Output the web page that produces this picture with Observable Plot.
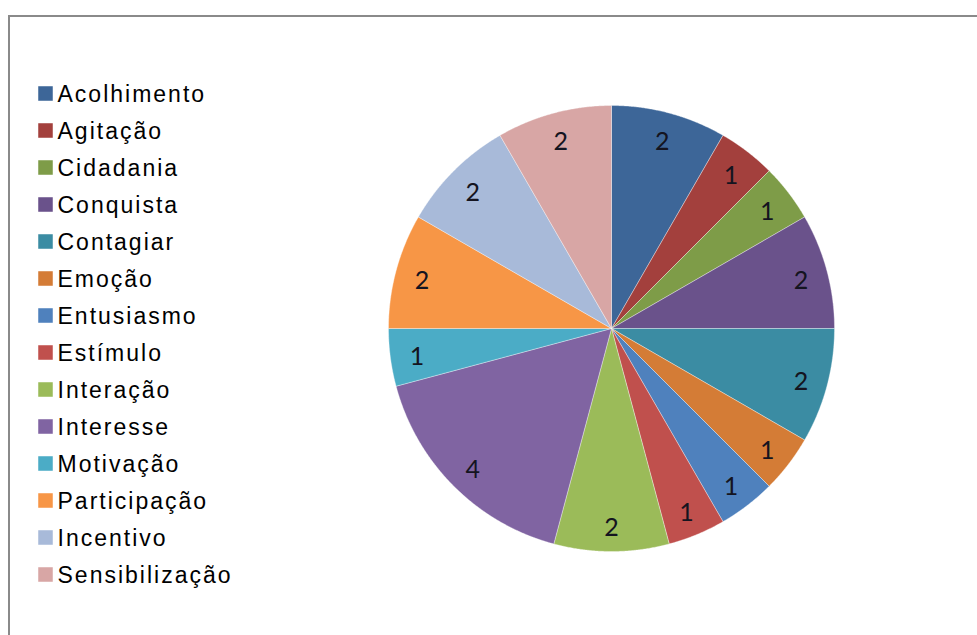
<!DOCTYPE html>
<html>
<head>
<meta charset="utf-8">
<script src="https://cdn.jsdelivr.net/npm/d3@7"></script>
<script src="https://cdn.jsdelivr.net/npm/@observablehq/plot@0.6"></script>
<style>
  html, body { margin: 0; padding: 0; background: #fff; }
  #wrap { position: relative; width: 977px; height: 635px; overflow: hidden; background: #fff; }
  #frame { position: absolute; left: 8px; top: 15px; width: 1000px; height: 700px; border: 2px solid #8a8a8a; box-sizing: border-box; }
  #legend { position: absolute; left: 0; top: 0; }
  #pie { position: absolute; left: 381px; top: 98px; }
  #legend text { letter-spacing: 2px; }
</style>
</head>
<body>
<div id="wrap">
  <div id="frame"></div>
  <div id="legend"></div>
  <div id="pie"></div>
</div>
<script>
const categories = ["Acolhimento","Agitação","Cidadania","Conquista","Contagiar","Emoção","Entusiasmo","Estímulo","Interação","Interesse","Motivação","Participação","Incentivo","Sensibilização"];
const values = [2,1,1,2,2,1,1,1,2,4,1,2,2,2];
const colors = ["#3D6698","#A3403D","#7E9C48","#6A528B","#3B8CA3","#D47C36","#4F81BD","#C0504D","#9BBB59","#8064A2","#4BACC6","#F79646","#A8BAD9","#D8A6A5"];

const data = categories.map((name, i) => ({name, value: values[i]}));
const arcs = d3.pie().sort(null).value(d => d.value)(data);

// polygon outline of each slice in unit-circle coordinates
const pts = [];
for (const a of arcs) {
  pts.push({name: a.data.name, x: 0, y: 0});
  const n = Math.max(2, Math.ceil((a.endAngle - a.startAngle) / 0.005));
  for (let k = 0; k <= n; k++) {
    const t = a.startAngle + (a.endAngle - a.startAngle) * k / n;
    pts.push({name: a.data.name, x: Math.sin(t), y: Math.cos(t)});
  }
  pts.push({name: a.data.name, x: 0, y: 0});
}
const labelR = 0.88;
const labels = arcs.map(a => {
  const m = (a.startAngle + a.endAngle) / 2;
  return {name: a.data.name, value: a.data.value, x: labelR * Math.sin(m), y: labelR * Math.cos(m)};
});

const color = {domain: categories, range: colors};

const pie = Plot.plot({
  width: 460, height: 460, margin: 7,
  x: {domain: [-1, 1], axis: null},
  y: {domain: [-1, 1], axis: null},
  color,
  marks: [
    Plot.line(pts, {x: "x", y: "y", z: "name", fill: "name", stroke: "#ffffff", strokeOpacity: 0.35, strokeWidth: 1, curve: "linear"}),
    Plot.text(labels, {x: "x", y: "y", dy: 3, text: d => String(d.value), fontSize: 25, fill: "#141420", fontFamily: "Lato, 'Open Sans', sans-serif"})
  ]
});
document.getElementById("pie").appendChild(pie);

const legend = Plot.plot({
  width: 260, height: 635, margin: 0,
  x: {domain: [0, 1], axis: null},
  y: {type: "point", domain: categories, range: [93, 574], padding: 0, axis: null},
  color,
  marks: [
    Plot.dot(categories, {y: d => d, frameAnchor: "left", dx: 45, symbol: "square", r: 8.2, fill: d => d, stroke: "none"}),
    Plot.text(categories, {y: d => d, text: d => d, frameAnchor: "left", dx: 57, dy: 1, textAnchor: "start", fontSize: 23, fill: "#000", fontFamily: "'Liberation Sans', Arial, sans-serif"})
  ]
});
document.getElementById("legend").appendChild(legend);
</script>
</body>
</html>
